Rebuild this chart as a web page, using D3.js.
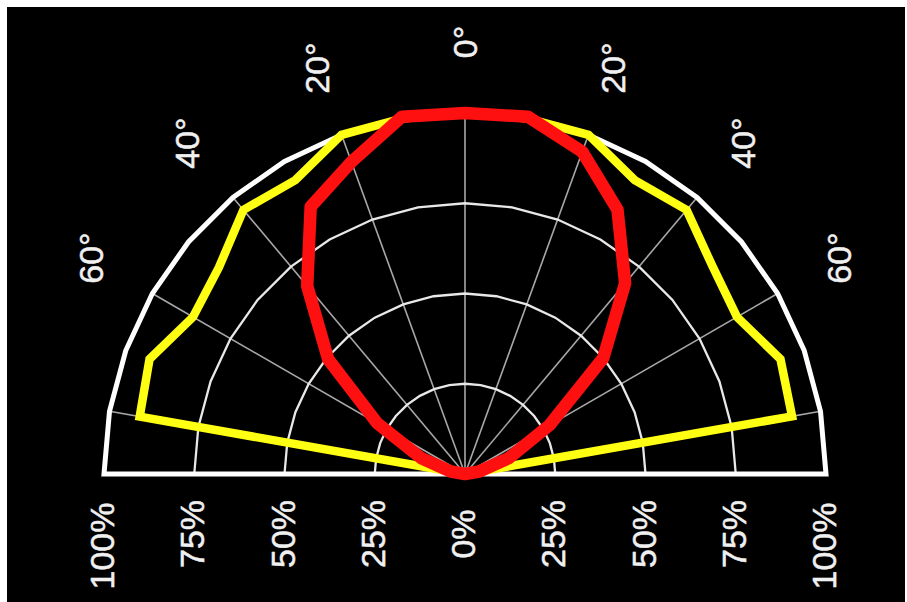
<!DOCTYPE html>
<html><head><meta charset="utf-8">
<script src="https://cdn.jsdelivr.net/npm/d3@7"></script>
<style>html,body{margin:0;padding:0;background:#fff;}svg{display:block;}</style>
</head><body>
<svg id="c" width="907" height="602"></svg>
<script>
// Angles (degrees, 0 = straight down in the lamp frame / up in the picture)
const angles = [-90,-80,-70,-60,-50,-40,-30,-20,-10,0,10,20,30,40,50,60,70,80,90];
// Relative intensity, % of maximum
const redSeries    = [0,4,13,28,49.5,68,85.5,92,100.5,100,100.5,95,84.5,69,50,27,13,4,0];
const yellowSeries = [0,91.5,93,87,89,95.5,94,100,100,100,100,100,94,95.5,89.5,87,93,92,0];
const ringTicks = [25,50,75];
const spokeAngles = [-80,-60,-40,-20,0,20,40,60,80];
const angleLabels = [{a:0,t:"0°"},{a:-20,t:"20°"},{a:20,t:"20°"},{a:-40,t:"40°"},{a:40,t:"40°"},{a:-60,t:"60°"},{a:60,t:"60°"}];
const pctLabels = [{v:-100,t:"100%"},{v:-75,t:"75%"},{v:-50,t:"50%"},{v:-25,t:"25%"},{v:0,t:"0%"},{v:25,t:"25%"},{v:50,t:"50%"},{v:75,t:"75%"},{v:100,t:"100%"}];

const svg = d3.select("#c");
svg.append("rect").attr("x",7).attr("y",7).attr("width",898).attr("height",595).attr("fill","#000");

const cx = 465, cy = 474;
const r = d3.scaleLinear().domain([0,100]).range([0,361]);
const ang = d3.scaleLinear().domain([-180,180]).range([-Math.PI, Math.PI]);
const x = d3.scaleLinear().domain([-100,100]).range([cx - 361, cx + 361]);

const g = svg.append("g").attr("transform",`translate(${cx},${cy})`);
const radial = d3.lineRadial().angle(d=>ang(d[0])).radius(d=>r(d[1])).curve(d3.curveLinear);
const ringAngles = d3.range(-90, 91, 10);

// spokes
g.selectAll("line.spoke").data(spokeAngles).join("line")
  .attr("x1",0).attr("y1",0)
  .attr("x2",d=>r(100)*Math.sin(ang(d)))
  .attr("y2",d=>-r(100)*Math.cos(ang(d)))
  .attr("stroke","#a8a8a8").attr("stroke-width",1.6);

// rings
g.selectAll("path.ring").data(ringTicks).join("path")
  .attr("d",t=>radial(ringAngles.map(a=>[a,t])))
  .attr("fill","none").attr("stroke","#e8e8e8").attr("stroke-width",2.3);

// outer boundary + baseline
g.append("path").attr("d", radial(ringAngles.map(a=>[a,100])) + "Z")
  .attr("fill","none").attr("stroke","#fff").attr("stroke-width",5).attr("stroke-linejoin","miter");

// curves
g.append("path").attr("d", radial(angles.map((a,i)=>[a,yellowSeries[i]])))
  .attr("fill","none").attr("stroke","#ffff14").attr("stroke-width",8.5).attr("stroke-linejoin","miter");
g.append("path").attr("d", radial(angles.map((a,i)=>[a,redSeries[i]])) + "Z")
  .attr("fill","none").attr("stroke","#ff1010").attr("stroke-width",12.5).attr("stroke-linejoin","round");

const font = "'Liberation Sans', Arial, sans-serif";
// angle labels
svg.selectAll("text.al").data(angleLabels).join("text")
  .attr("transform",d=>{const R=432; const px=cx+R*Math.sin(ang(d.a)); const py=cy-R*Math.cos(ang(d.a)); return `translate(${px},${py}) rotate(-90)`;})
  .attr("text-anchor","middle").attr("dominant-baseline","central")
  .attr("fill","#f0f0f0").attr("stroke","#f0f0f0").attr("stroke-width",0.5)
  .attr("font-family",font).attr("font-size",34)
  .text(d=>d.t);

// percent labels
svg.selectAll("text.pl").data(pctLabels).join("text")
  .attr("transform",d=>`translate(${x(d.v)-2},${Math.abs(d.v)===100?546:534}) rotate(-90)`)
  .attr("text-anchor","middle").attr("dominant-baseline","central")
  .attr("fill","#f0f0f0").attr("stroke","#f0f0f0").attr("stroke-width",0.5)
  .attr("font-family",font).attr("font-size",34)
  .text(d=>d.t);
</script>
</body></html>
